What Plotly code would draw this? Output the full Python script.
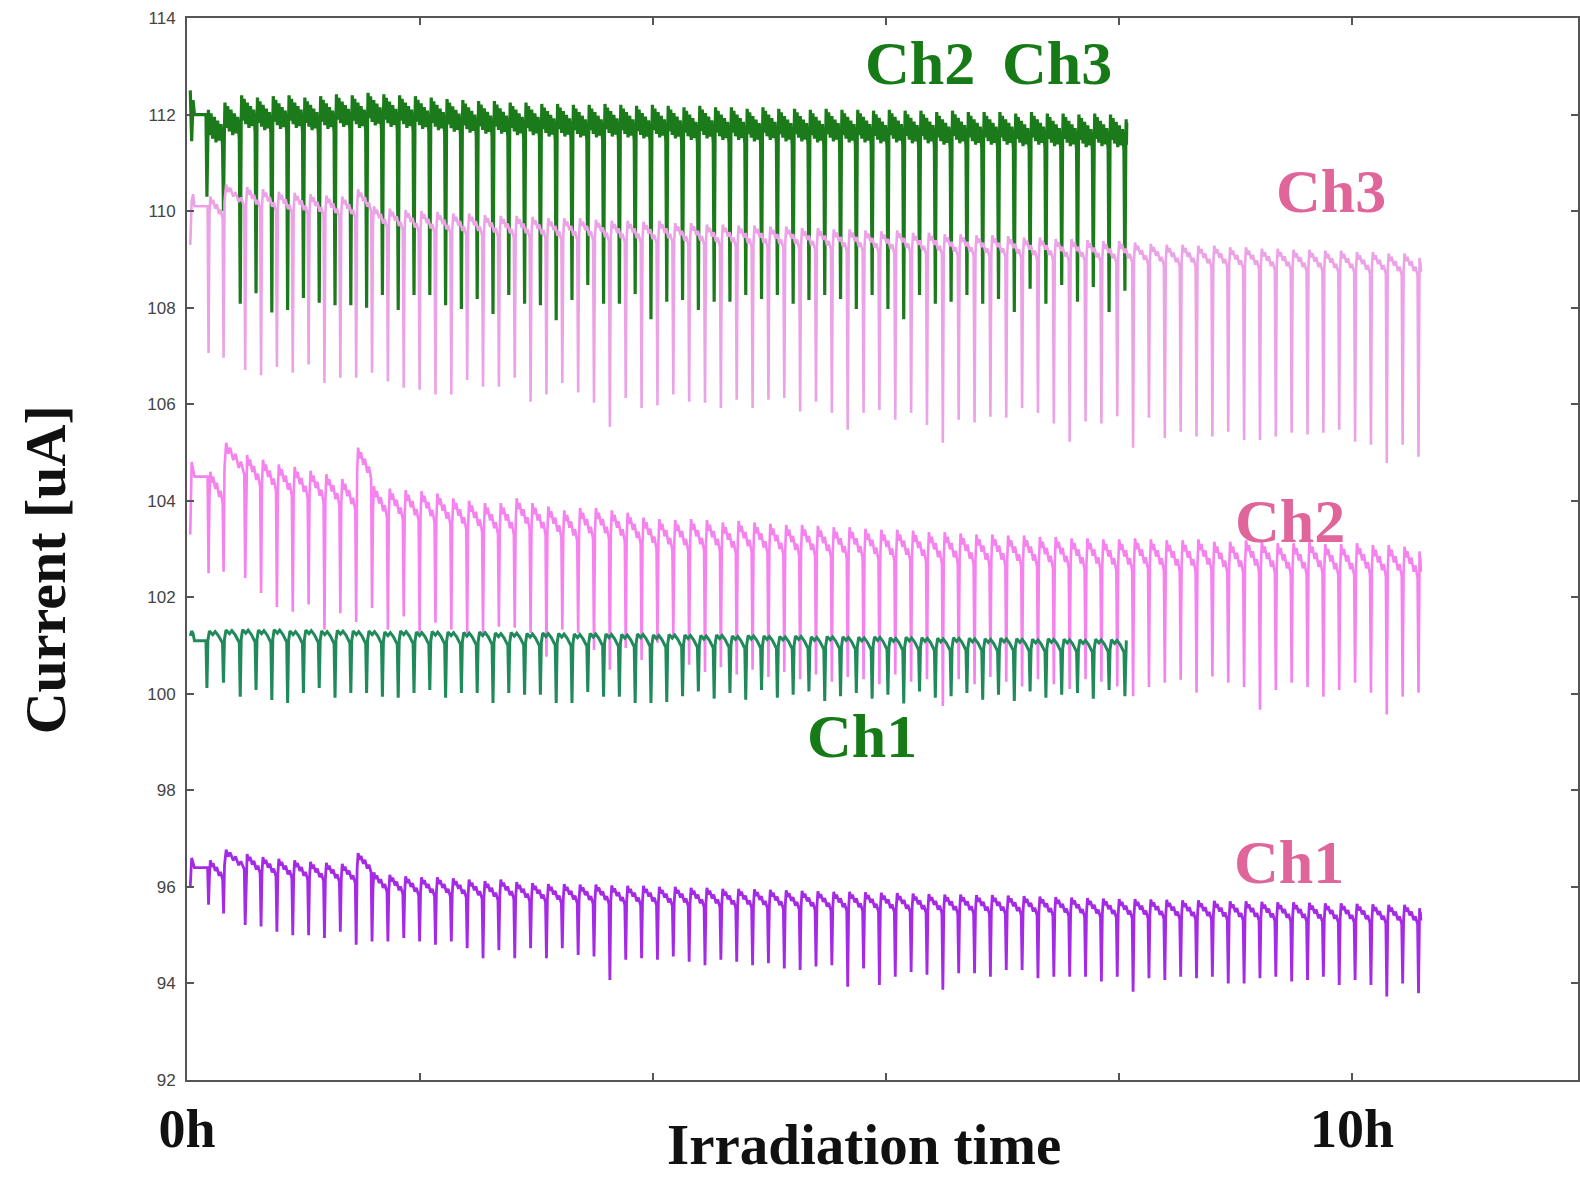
import plotly.graph_objects as go

# ---------------- data ----------------
# dip schedule (hours) of the two read-out systems
GREEN_FIRST_DIPS = [0.171, 0.313]
GREEN_REGULAR_START = 0.457
GREEN_PERIOD = 0.1356
PINK_FIRST_DIPS = [0.185, 0.314]
PINK_REGULAR_START = 0.4996
PINK_PERIOD = 0.1361

TRACE_START = 0.028
GREEN_END = 8.075
PINK_END = 10.60

# ---- green Ch3 ----
green_ch3_start = [112.50, 111.45, 112.30, 112.00]
green_ch3_peaks = [112.10, 112.25, 112.40, 112.35, 112.38, 112.40, 112.35, 112.38, 112.42, 112.40,
                   112.45, 112.42, 112.40, 112.38, 112.35, 112.32, 112.30, 112.28, 112.28, 112.25,
                   112.25, 112.22, 112.22, 112.20, 112.20, 112.22, 112.20, 112.18, 112.20, 112.18,
                   112.15, 112.18, 112.15, 112.15, 112.12, 112.15, 112.12, 112.12, 112.10, 112.12,
                   112.10, 112.10, 112.08, 112.10, 112.08, 112.08, 112.05, 112.08, 112.05, 112.05,
                   112.05, 112.02, 112.05, 112.02, 112.02, 112.00, 112.02, 112.00, 112.05]
green_ch3_dips = [110.30, 110.00, 108.08, 108.30, 107.90, 107.95, 108.20, 108.10, 108.05, 108.05,
                  108.00, 108.26, 107.95, 108.26, 108.26, 108.05, 107.97, 108.18, 107.87, 108.26,
                  108.08, 108.05, 107.74, 108.16, 108.47, 108.08, 108.08, 108.28, 107.76, 108.12,
                  108.16, 107.95, 108.12, 108.12, 108.26, 108.18, 108.26, 108.08, 108.16, 108.26,
                  108.18, 107.97, 108.26, 107.97, 107.76, 108.26, 108.08, 108.12, 108.26, 108.08,
                  108.18, 107.91, 108.39, 108.08, 108.47, 108.12, 108.43, 107.91, 108.35]

# ---- green Ch1 ----
green_ch1_start = [101.20, 101.30, 101.25, 101.10]
green_ch1_peaks = [101.30, 101.32, 101.33, 101.32, 101.33, 101.30, 101.32, 101.30, 101.31, 101.30,
                   101.30, 101.28, 101.30, 101.28, 101.29, 101.28, 101.27, 101.28, 101.26, 101.27,
                   101.25, 101.26, 101.25, 101.24, 101.25, 101.24, 101.23, 101.24, 101.22, 101.23,
                   101.22, 101.21, 101.22, 101.20, 101.21, 101.20, 101.19, 101.20, 101.18, 101.19,
                   101.18, 101.17, 101.18, 101.16, 101.17, 101.16, 101.15, 101.16, 101.15, 101.14,
                   101.15, 101.14, 101.13, 101.14, 101.13, 101.12, 101.13, 101.12, 101.12]
green_ch1_dips = [100.12, 100.23, 99.94, 100.08, 99.87, 99.81, 100.02, 100.12, 99.92, 100.02,
                  100.02, 99.94, 99.92, 100.02, 100.08, 99.92, 100.02, 100.02, 99.81, 100.02,
                  99.98, 99.98, 99.81, 99.81, 100.04, 99.94, 99.94, 99.81, 99.81, 99.83,
                  99.95, 100.05, 99.90, 100.02, 99.88, 100.08, 99.92, 99.98, 100.05, 99.85,
                  99.95, 100.02, 99.90, 99.98, 99.80, 100.05, 99.92, 99.95, 100.02, 99.88,
                  99.98, 99.85, 100.05, 99.92, 99.98, 100.02, 99.90, 100.08, 99.95]

# ---- pink Ch3 ----
pink_ch3_start = [109.30, 110.20, 110.35, 110.10]
pink_ch3_peaks = [110.30, 110.55, 110.50, 110.45, 110.40, 110.38, 110.35, 110.32, 110.30, 110.45,
                  110.10, 110.05, 110.02, 110.00, 109.98, 109.95, 109.95, 109.92, 109.90, 109.90,
                  109.88, 109.85, 109.85, 109.85, 109.82, 109.80, 109.80, 109.78, 109.80, 109.75,
                  109.75, 109.72, 109.72, 109.70, 109.70, 109.68, 109.68, 109.65, 109.65, 109.62,
                  109.62, 109.60, 109.58, 109.60, 109.55, 109.55, 109.52, 109.52, 109.50, 109.50,
                  109.48, 109.45, 109.45, 109.42, 109.42, 109.40, 109.38, 109.38, 109.35, 109.32,
                  109.30, 109.30, 109.28, 109.28, 109.25, 109.25, 109.22, 109.22, 109.20, 109.20,
                  109.18, 109.18, 109.15, 109.15, 109.12, 109.12, 109.10]
pink_ch3_dips = [107.06, 106.96, 106.71, 106.60, 106.77, 106.65, 106.82, 106.44, 106.55, 106.55,
                 106.65, 106.47, 106.34, 106.30, 106.20, 106.20, 106.50, 106.36, 106.36, 106.55,
                 106.05, 106.20, 106.44, 106.24, 106.03, 105.53, 106.13, 105.92, 105.98, 106.20,
                 106.05, 106.03, 105.92, 106.09, 105.92, 106.09, 106.13, 105.85, 106.05, 105.82,
                 105.47, 105.82, 105.88, 105.68, 105.82, 105.57, 105.20, 105.68, 105.62, 105.74,
                 105.72, 105.92, 105.82, 105.60, 105.22, 105.64, 105.60, 105.75, 105.10, 105.72,
                 105.30, 105.43, 105.33, 105.33, 105.43, 105.26, 105.26, 105.33, 105.41, 105.37,
                 105.41, 105.47, 105.22, 105.16, 104.78, 105.16, 104.91]

# ---- pink Ch2 ----
pink_ch2_start = [103.30, 104.80, 104.65, 104.50]
pink_ch2_peaks = [104.60, 105.20, 104.95, 104.85, 104.75, 104.70, 104.62, 104.55, 104.45, 105.10,
                  104.30, 104.25, 104.22, 104.20, 104.15, 104.05, 104.00, 103.95, 103.95, 104.05,
                  103.95, 103.88, 103.80, 103.85, 103.85, 103.80, 103.75, 103.65, 103.62, 103.60,
                  103.62, 103.60, 103.55, 103.58, 103.55, 103.52, 103.50, 103.50, 103.48, 103.45,
                  103.45, 103.42, 103.40, 103.40, 103.38, 103.35, 103.35, 103.32, 103.30, 103.30,
                  103.28, 103.28, 103.25, 103.25, 103.22, 103.22, 103.20, 103.20, 103.22, 103.20,
                  103.18, 103.18, 103.20, 103.15, 103.15, 103.18, 103.15, 103.12, 103.12, 103.15,
                  103.10, 103.10, 103.12, 103.08, 103.08, 103.05, 103.05]
pink_ch2_dips = [102.50, 102.53, 102.40, 102.09, 101.80, 101.70, 101.85, 101.33, 101.67, 101.49,
                 101.78, 101.33, 101.60, 101.26, 101.47, 101.33, 101.26, 101.26, 101.39, 101.37,
                 101.26, 100.77, 101.33, 101.26, 100.91, 100.50, 100.95, 100.70, 101.06, 101.19,
                 100.60, 100.45, 100.55, 100.40, 100.50, 100.35, 100.45, 100.30, 100.40, 100.25,
                 100.35, 100.30, 100.20, 100.40, 100.25, 100.30, 99.75, 100.30, 100.20, 100.35,
                 100.25, 100.15, 100.30, 100.20, 100.10, 100.30, 100.25, 100.15, 99.95, 100.14,
                 100.23, 100.29, 100.02, 100.36, 100.23, 100.14, 99.67, 100.08, 100.23, 100.14,
                 99.94, 100.08, 100.23, 100.02, 99.57, 99.94, 100.02]

# ---- purple Ch1 ----
purple_ch1_start = [96.00, 96.60, 96.50, 96.40]
purple_ch1_peaks = [96.55, 96.77, 96.68, 96.62, 96.58, 96.55, 96.52, 96.50, 96.48, 96.70,
                    96.30, 96.25, 96.22, 96.20, 96.20, 96.18, 96.15, 96.12, 96.15, 96.10,
                    96.08, 96.06, 96.06, 96.05, 96.05, 96.03, 96.02, 96.02, 96.00, 96.00,
                    95.98, 95.98, 95.96, 95.96, 95.95, 95.94, 95.93, 95.92, 95.91, 95.90,
                    95.90, 95.89, 95.88, 95.87, 95.86, 95.85, 95.84, 95.84, 95.83, 95.83,
                    95.82, 95.81, 95.80, 95.79, 95.78, 95.77, 95.76, 95.75, 95.75, 95.74,
                    95.73, 95.72, 95.72, 95.71, 95.70, 95.70, 95.69, 95.68, 95.68, 95.67,
                    95.66, 95.66, 95.65, 95.64, 95.63, 95.63, 95.62]
purple_ch1_dips = [95.63, 95.45, 95.21, 95.18, 95.07, 95.00, 95.00, 94.94, 95.07, 94.80,
                   94.87, 94.87, 94.94, 94.87, 94.80, 94.87, 94.73, 94.52, 94.69, 94.52,
                   94.73, 94.52, 94.73, 94.59, 94.56, 94.07, 94.49, 94.52, 94.49, 94.56,
                   94.45, 94.38, 94.49, 94.45, 94.38, 94.42, 94.31, 94.28, 94.35, 94.38,
                   93.93, 94.31, 93.97, 94.14, 94.24, 94.18, 93.87, 94.21, 94.21, 94.14,
                   94.28, 94.28, 94.11, 94.14, 94.14, 94.14, 94.04, 94.14, 93.83, 94.11,
                   94.07, 94.14, 94.11, 94.14, 94.00, 94.00, 94.11, 94.14, 94.04, 94.07,
                   94.14, 93.97, 94.07, 93.97, 93.73, 94.00, 93.80]

y_ticks = [92, 94, 96, 98, 100, 102, 104, 106, 108, 110, 112, 114]
x_ticks = [0, 2, 4, 6, 8, 10]
x_tick_text = ["0h", "", "", "", "", "10h"]

labels = [  # text, x (h), y (uA), colour
    ("Ch2", 6.29, 113.07, "#167a16"),
    ("Ch3", 7.47, 113.07, "#167a16"),
    ("Ch3", 9.82, 110.42, "#e0659b"),
    ("Ch2", 9.47, 103.58, "#e0659b"),
    ("Ch1", 5.79, 99.13, "#167a16"),
    ("Ch1", 9.46, 96.52, "#e0659b"),
]

# ---------------- waveform shapes (style) ----------------
SAW = [(0.04, -0.7), (0.12, 0.0), (0.22, -0.35), (0.30, -0.15), (0.45, -0.55), (0.55, -0.35),
       (0.70, -0.80), (0.80, -0.60), (0.95, -1.0)]
NOISY = [(0.03, -0.6), (0.09, 0.0), (0.17, -0.7), (0.25, -0.1), (0.35, -0.8), (0.45, -0.2),
         (0.55, -0.9), (0.65, -0.3), (0.75, -0.85), (0.85, -0.4), (0.95, -1.0)]
FLAT = [(0.05, -0.6), (0.15, 0.0), (0.35, -0.3), (0.5, -0.05), (0.7, -0.4), (0.93, -1.0)]


def dip_times(first, start, period, n):
    return list(first) + [start + i * period for i in range(n - len(first))]


def build(times, peaks, dips, start_vals, droop, pattern, t_end, w=0.008):
    xs, ys = [], []
    for i, v in enumerate(start_vals):
        xs.append(TRACE_START + i * 0.012)
        ys.append(v)
    pre = start_vals[-1]
    for k, t in enumerate(times):
        p = peaks[k]
        xs += [t - w, t, t + w]
        ys += [pre, dips[k], p - 0.8 * droop]
        nxt = times[k + 1] if k + 1 < len(times) else t_end
        span = nxt - t
        for frac, off in pattern:
            tt = t + frac * span
            if t + w < tt < nxt - w:
                xs.append(tt)
                ys.append(p + off * droop)
        pre = p - droop
    return xs, ys


g_times = dip_times(GREEN_FIRST_DIPS, GREEN_REGULAR_START, GREEN_PERIOD, len(green_ch3_dips))
p_times = dip_times(PINK_FIRST_DIPS, PINK_REGULAR_START, PINK_PERIOD, len(pink_ch3_dips))

series = [
    (g_times, green_ch3_peaks, green_ch3_dips, green_ch3_start, 0.75, NOISY, GREEN_END, "#1b7b1b", 3.2),
    (p_times, pink_ch3_peaks, pink_ch3_dips, pink_ch3_start, 0.45, SAW, PINK_END, "#eca2e6", 2.6),
    (p_times, pink_ch2_peaks, pink_ch2_dips, pink_ch2_start, 0.65, SAW, PINK_END, "#f582ee", 2.6),
    (g_times, green_ch1_peaks, green_ch1_dips, green_ch1_start, 0.25, FLAT, GREEN_END, "#218a5a", 3),
    (p_times, purple_ch1_peaks, purple_ch1_dips, purple_ch1_start, 0.4, SAW, PINK_END, "#a52ae6", 2.8),
]

fig = go.Figure()
for times, peaks, dips, st, droop, pat, tend, col, lw in series:
    xs, ys = build(times, peaks, dips, st, droop, pat, tend)
    fig.add_trace(go.Scatter(x=xs, y=ys, mode="lines", line=dict(color=col, width=lw),
                             showlegend=False, hoverinfo="skip"))

for text, x, y, col in labels:
    fig.add_annotation(x=x, y=y, xref="x", yref="y", text="<b>%s</b>" % text, showarrow=False,
                       font=dict(family="Liberation Serif", size=62, color=col))

fig.add_annotation(x=5.81, y=-0.0923, xref="x", yref="paper", text="<b>Irradiation time</b>",
                   showarrow=False, yanchor="bottom", xanchor="center",
                   font=dict(family="Liberation Serif", size=57, color="#111"))
fig.add_annotation(x=-0.102, y=0.48, xref="paper", yref="paper", text="<b>Current [uA]</b>",
                   showarrow=False, textangle=-90, xanchor="center", yanchor="middle",
                   font=dict(family="Liberation Serif", size=58, color="#111"))

axis_common = dict(showline=True, linecolor="#555", linewidth=2, mirror="ticks", ticks="inside",
                   ticklen=7, tickcolor="#555", tickwidth=1.5, showgrid=False, zeroline=False)
fig.update_xaxes(range=[0, 11.94], tickvals=x_ticks, ticktext=x_tick_text,
                 tickfont=dict(family="Liberation Serif", size=54, color="#111", weight="bold"),
                 **axis_common)
fig.update_yaxes(range=[92, 114], tickvals=y_ticks, ticklabelstandoff=6,
                 tickfont=dict(family="Liberation Sans", size=17, color="#444"),
                 **axis_common)
fig.update_layout(width=1580, height=1178, margin=dict(l=187, r=0, t=18, b=98),
                  plot_bgcolor="white", paper_bgcolor="white")
fig.write_html("out.html")
